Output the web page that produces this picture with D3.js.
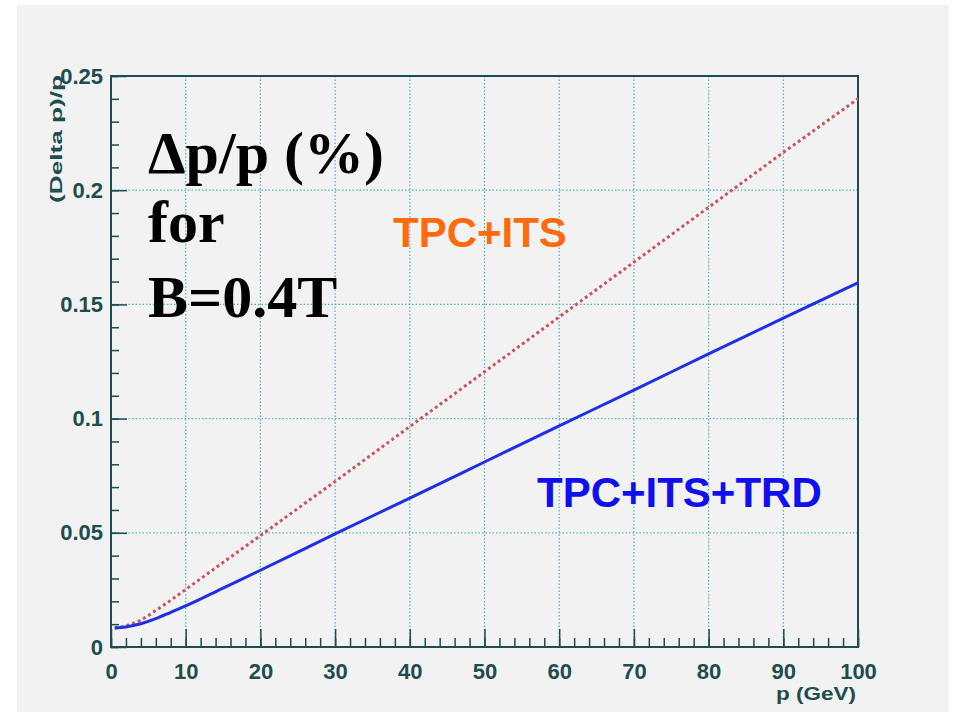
<!DOCTYPE html>
<html>
<head>
<meta charset="utf-8">
<script src="https://cdn.jsdelivr.net/npm/d3@7"></script>
<style>
  body { margin: 0; background: #ffffff; }
  svg { display: block; }
</style>
</head>
<body>
<svg id="chart" width="955" height="717"></svg>
<script>
// momentum (GeV) and relative resolution
var pGeV      = [0.5, 2, 4, 6, 8, 10, 15, 20, 30, 40, 50, 60, 70, 80, 90, 100];
var tpcIts    = [0.0083, 0.0093, 0.0118, 0.0160, 0.0205, 0.0252, 0.0370, 0.0488, 0.0725, 0.0965, 0.1205, 0.1445, 0.1685, 0.1925, 0.2165, 0.2400];
var tpcItsTrd = [0.0083, 0.0088, 0.0102, 0.0124, 0.0152, 0.0180, 0.0258, 0.0336, 0.0495, 0.0652, 0.0810, 0.0968, 0.1125, 0.1283, 0.1440, 0.1595];

var xMajor = [0, 10, 20, 30, 40, 50, 60, 70, 80, 90, 100];
var yMajor = [0, 0.05, 0.1, 0.15, 0.2, 0.25];
var xMinor = d3.range(0, 101, 2);
var yMinor = d3.range(0, 0.2501, 0.01);

var svg = d3.select("#chart");
var axisCol = "#1d4d4d";
var sans = "Liberation Sans, Arial, sans-serif";

// panel background
svg.append("rect").attr("x", 17).attr("y", 5).attr("width", 932).attr("height", 707)
    .attr("fill", "#f2f2f2");

var pLeft = 111, pRight = 858, pTop = 76, pBottom = 647;

var x = d3.scaleLinear().domain([0, 100]).range([pLeft, pRight]);
var y = d3.scaleLinear().domain([0, 0.25]).range([pBottom, pTop]);

// grid
var grid = svg.append("g").attr("stroke", "#4fb3b3").attr("stroke-width", 1.2)
    .attr("stroke-dasharray", "1.5,2");
grid.selectAll(".gx").data(xMajor.slice(1, -1)).enter().append("line")
    .attr("x1", function(d) { return x(d); }).attr("x2", function(d) { return x(d); })
    .attr("y1", pTop).attr("y2", pBottom);
grid.selectAll(".gy").data(yMajor.slice(1, -1)).enter().append("line")
    .attr("y1", function(d) { return y(d); }).attr("y2", function(d) { return y(d); })
    .attr("x1", pLeft).attr("x2", pRight);

// minor ticks
svg.append("g").attr("transform", "translate(0," + pBottom + ")")
    .call(d3.axisBottom(x).tickValues(xMinor).tickSize(-9).tickFormat(""))
    .call(function(g) { g.select(".domain").remove(); g.selectAll("line").attr("stroke", axisCol).attr("stroke-width", 1.5); });
svg.append("g").attr("transform", "translate(" + pLeft + ",0)")
    .call(d3.axisLeft(y).tickValues(yMinor).tickSize(-8).tickFormat(""))
    .call(function(g) { g.select(".domain").remove(); g.selectAll("line").attr("stroke", axisCol).attr("stroke-width", 1.5); });

// major ticks + labels
var xAxis = svg.append("g").attr("transform", "translate(0," + pBottom + ")")
    .call(d3.axisBottom(x).tickValues(xMajor).tickSizeInner(-18).tickSizeOuter(0).tickPadding(16).tickFormat(d3.format("d")));
var yAxis = svg.append("g").attr("transform", "translate(" + pLeft + ",0)")
    .call(d3.axisLeft(y).tickValues(yMajor).tickSizeInner(-16).tickSizeOuter(0).tickPadding(8)
        .tickFormat(function(d) { return d === 0 ? "0" : String(+d.toFixed(2)); }));
[xAxis, yAxis].forEach(function(g) {
    g.select(".domain").remove();
    g.selectAll("line").attr("stroke", axisCol).attr("stroke-width", 1.5);
    g.selectAll("text").attr("fill", axisCol).style("font-family", sans)
        .style("font-size", "22px").style("font-weight", "bold");
});

// frame
svg.append("rect").attr("x", pLeft).attr("y", pTop).attr("width", pRight - pLeft).attr("height", pBottom - pTop)
    .attr("fill", "none").attr("stroke", axisCol).attr("stroke-width", 2);

// curves
var line = d3.line().x(function(d) { return x(d[0]); }).y(function(d) { return y(d[1]); })
    .curve(d3.curveMonotoneX);
svg.append("path").datum(d3.zip(pGeV, tpcIts)).attr("d", line)
    .attr("fill", "none").attr("stroke", "#c85560").attr("stroke-width", 3)
    .attr("stroke-dasharray", "3,3");
svg.append("path").datum(d3.zip(pGeV, tpcItsTrd)).attr("d", line)
    .attr("fill", "none").attr("stroke", "#1f2fe6").attr("stroke-width", 3);

// axis titles (stretched along the text, like the original)
svg.append("text").attr("x", 856).attr("y", 700).attr("text-anchor", "end")
    .attr("fill", axisCol).style("font-family", sans).style("font-size", "18px")
    .style("font-weight", "bold").attr("textLength", 80).attr("lengthAdjust", "spacingAndGlyphs")
    .text("p (GeV)");
svg.append("text").attr("transform", "translate(62,75) rotate(-90)").attr("text-anchor", "end")
    .attr("fill", axisCol).style("font-family", sans).style("font-size", "17px")
    .style("font-weight", "bold").attr("textLength", 128).attr("lengthAdjust", "spacingAndGlyphs")
    .text("(Delta p)/p");

// annotations
var big = svg.append("g").attr("fill", "#000").style("font-family", "Liberation Serif, Times New Roman, serif")
    .style("font-weight", "bold").style("font-size", "60px");
big.append("text").attr("x", 148).attr("y", 173).text("\u0394p/p (%)");
big.append("text").attr("x", 148).attr("y", 242).text("for");
big.append("text").attr("x", 148).attr("y", 317).text("B=0.4T");

svg.append("text").attr("x", 393).attr("y", 247).attr("fill", "#ff6a0a")
    .style("font-family", sans).style("font-weight", "bold").style("font-size", "42px")
    .text("TPC+ITS");
svg.append("text").attr("x", 537).attr("y", 507).attr("fill", "#1010ee")
    .style("font-family", sans).style("font-weight", "bold").style("font-size", "42px")
    .text("TPC+ITS+TRD");
</script>
</body>
</html>
